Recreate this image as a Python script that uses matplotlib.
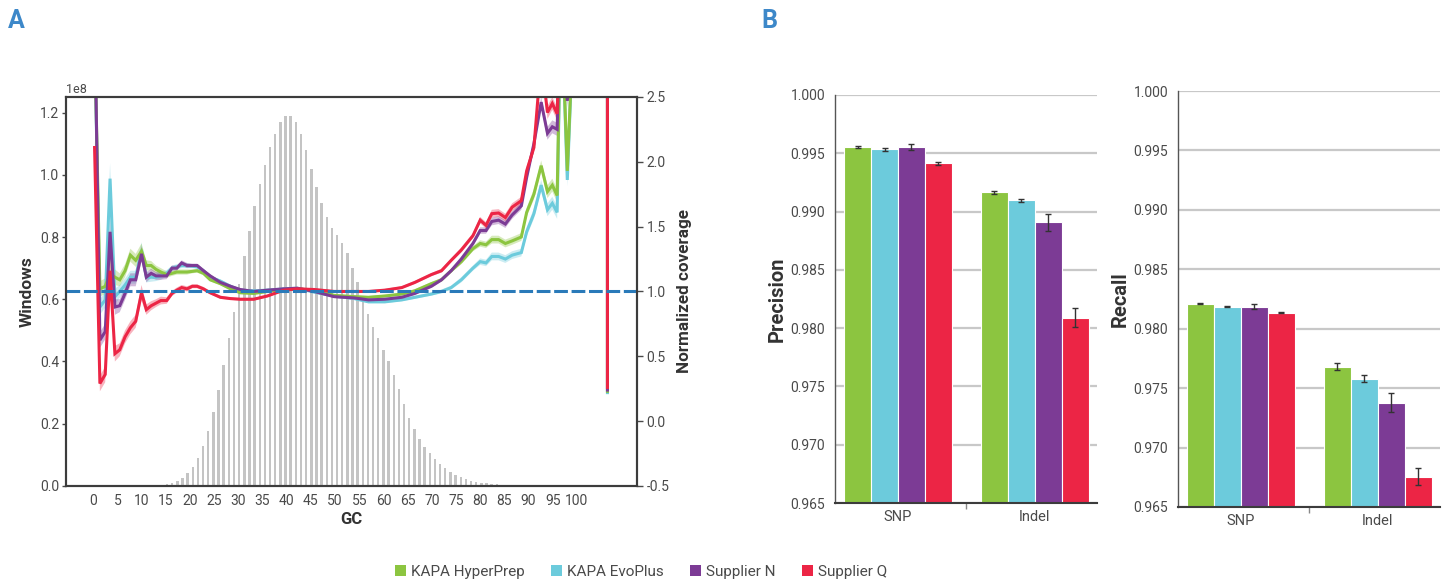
import numpy as np
import matplotlib
matplotlib.use("Agg")
import matplotlib.pyplot as plt
from matplotlib.patches import Patch

plt.rcParams['font.family'] = ['Roboto', 'DejaVu Sans']

# ---- data ----
kits = ["KAPA HyperPrep", "KAPA EvoPlus", "Supplier N", "Supplier Q"]
kit_colors = ["#8cc540", "#6ccbdc", "#7c3b95", "#ec2545"]

# GC histogram, windows per bin (x1e8), bins evenly spaced from first to last GC
hist_gc_first, hist_gc_last = 14.2, 84.5
hist_windows = [0.003, 0.006, 0.011, 0.017, 0.027, 0.042, 0.062, 0.091, 0.13, 0.178,
                0.237, 0.307, 0.39, 0.475, 0.56, 0.65, 0.74, 0.82, 0.90, 0.97,
                1.03, 1.09, 1.13, 1.17, 1.19, 1.19, 1.17, 1.13, 1.08, 1.02,
                0.96, 0.91, 0.865, 0.83, 0.805, 0.78, 0.75, 0.70, 0.655, 0.595,
                0.554, 0.512, 0.474, 0.437, 0.40, 0.356, 0.31, 0.263, 0.219, 0.182,
                0.15, 0.126, 0.105, 0.086, 0.071, 0.057, 0.046, 0.035, 0.028, 0.021,
                0.016, 0.013, 0.011, 0.009, 0.006, 0.005, 0.004]

# normalized coverage per GC
gc = [0.3, 1.4, 2.5, 3.5, 4.5, 5.5, 6.6, 7.7, 8.8, 10.0,
      11.0, 12.0, 13.0, 14.0, 15.2, 16.3, 17.3, 18.3, 19.4, 20.5,
      21.5, 22.8, 24.2, 26.3, 28.4, 30.4, 33.2, 36.0, 39.4, 42.2,
      45.7, 49.8, 54.0, 56.9, 60.3, 63.8, 66.5, 69.9, 72.0, 74.0,
      76.1, 78.5, 80.0, 81.2, 82.4, 83.8, 85.2, 86.6, 88.5, 89.6,
      91.1, 92.6, 93.9, 94.9, 95.9, 96.7, 98.0, 99.2, 100.0, 106.3, 106.3]
cov_hyperprep = [3.0, 1.02, 1.04, 1.14, 1.11, 1.09, 1.16, 1.28, 1.24, 1.31,
                 1.20, 1.20, 1.17, 1.15, 1.13, 1.14, 1.15, 1.15, 1.15, 1.155,
                 1.16, 1.14, 1.09, 1.06, 1.02, 0.99, 0.985, 1.0, 1.015, 1.02,
                 1.01, 0.97, 0.96, 0.955, 0.965, 0.98, 1.005, 1.06, 1.09, 1.16,
                 1.23, 1.33, 1.37, 1.36, 1.40, 1.40, 1.37, 1.39, 1.42, 1.61,
                 1.75, 1.97, 1.77, 1.82, 1.74, 3.3, 1.93, 3.0, 4.0, 60, 0.23]
cov_evoplus = [3.0, 0.88, 0.935, 1.87, 0.96, 1.0, 1.05, 1.11, 1.11, 1.32,
               1.11, 1.11, 1.11, 1.12, 1.14, 1.18, 1.19, 1.20, 1.20, 1.195,
               1.19, 1.16, 1.11, 1.08, 1.04, 1.01, 1.005, 1.01, 1.02, 1.025,
               0.995, 0.965, 0.945, 0.92, 0.92, 0.935, 0.955, 0.98, 1.0, 1.03,
               1.09, 1.18, 1.23, 1.22, 1.27, 1.27, 1.25, 1.28, 1.30, 1.46,
               1.60, 1.82, 1.63, 1.68, 1.61, 3.3, 1.86, 3.0, 4.0, 60, 0.22]
cov_supplier_n = [3.2, 0.625, 0.69, 1.46, 0.88, 0.89, 0.985, 1.09, 1.09, 1.29,
                  1.11, 1.14, 1.12, 1.12, 1.12, 1.18, 1.18, 1.22, 1.20, 1.20,
                  1.20, 1.16, 1.12, 1.07, 1.04, 1.015, 1.0, 1.01, 1.02, 1.025,
                  1.0, 0.96, 0.95, 0.935, 0.94, 0.955, 0.985, 1.04, 1.09, 1.16,
                  1.25, 1.37, 1.47, 1.47, 1.54, 1.55, 1.52, 1.59, 1.66, 1.88,
                  2.14, 2.46, 2.22, 2.27, 2.25, 3.3, 2.47, 3.0, 4.0, 60, 0.24]
cov_supplier_q = [2.11, 0.29, 0.36, 1.16, 0.52, 0.55, 0.65, 0.72, 0.77, 0.99,
                  0.86, 0.89, 0.91, 0.93, 0.93, 0.985, 1.01, 1.03, 1.02, 1.04,
                  1.04, 1.02, 0.99, 0.955, 0.945, 0.94, 0.94, 0.965, 1.01, 1.02,
                  1.015, 1.0, 1.0, 1.0, 1.01, 1.03, 1.07, 1.13, 1.16, 1.24,
                  1.32, 1.43, 1.55, 1.51, 1.60, 1.605, 1.57, 1.65, 1.70, 1.93,
                  2.11, 2.8, 2.38, 2.45, 2.37, 3.3, 3.5, 3.6, 4.0, 60, 0.26]
cov_spread = [0.05, 0.06, 0.06, 0.12, 0.06, 0.05, 0.05, 0.05, 0.05, 0.06,
              0.04, 0.035, 0.03, 0.03, 0.025, 0.02, 0.02, 0.02, 0.02, 0.015,
              0.015, 0.015, 0.012, 0.012, 0.01, 0.01, 0.01, 0.01, 0.01, 0.01,
              0.01, 0.01, 0.01, 0.01, 0.01, 0.01, 0.012, 0.012, 0.015, 0.015,
              0.02, 0.02, 0.025, 0.025, 0.03, 0.03, 0.03, 0.03, 0.03, 0.035,
              0.04, 0.04, 0.05, 0.05, 0.05, 0.05, 0.05, 0.05, 0.0, 0.0, 0.0]

# panel B: precision / recall per kit
variant_types = ["SNP", "Indel"]
precision_snp = [0.99551, 0.99533, 0.99551, 0.99413]
precision_snp_err = [0.0001, 0.0001, 0.00025, 0.0001]
precision_indel = [0.99164, 0.99096, 0.98907, 0.98091]
precision_indel_err = [0.0001, 0.0001, 0.0007, 0.00085]
recall_snp = [0.98211, 0.98186, 0.98186, 0.98135]
recall_snp_err = [0.00005, 0.00005, 0.00022, 0.00004]
recall_indel = [0.97681, 0.97580, 0.97378, 0.96756]
recall_indel_err = [0.00028, 0.00028, 0.00083, 0.0007]

text_col = "#4a4a4a"
spine_col = "#3c3c3c"

fig = plt.figure(figsize=(14.48, 5.82), dpi=100)

# ---- panel A ----
ax = fig.add_axes([0.0456, 0.165, 0.3943, 0.6684])
hist_pos = np.linspace(hist_gc_first, hist_gc_last, len(hist_windows))
ax.bar(hist_pos, np.array(hist_windows) * 1e8, width=0.5, color="#c4c4c4", linewidth=0)
ax.set_xlim(-5.6, 112.4)
ax.set_ylim(0, 1.25e8)
ax.set_xticks(range(0, 101, 5))
ax.set_yticks(np.arange(0, 1.21e8, 0.2e8))
ax.tick_params(axis='x', length=0, labelsize=10, pad=6, colors=text_col)
ax.tick_params(axis='y', length=3, width=1, labelsize=10, pad=2, colors=text_col)
ax.yaxis.get_offset_text().set_fontsize(9)
ax.yaxis.get_offset_text().set_color(text_col)
ax.set_xlabel("GC", fontsize=12, fontweight='bold', color="#333333", labelpad=3)
ax.set_ylabel("Windows", fontsize=12.5, fontweight='bold', color="#333333", labelpad=4)

ax2 = ax.twinx()
series = [cov_hyperprep, cov_evoplus, cov_supplier_n, cov_supplier_q]
spread = np.array(cov_spread)
for vals, col in zip([series[1], series[0], series[2], series[3]],
                     [kit_colors[1], kit_colors[0], kit_colors[2], kit_colors[3]]):
    v = np.array(vals)
    ax2.fill_between(gc, v - spread, v + spread, color=col, alpha=0.35, linewidth=0)
    ax2.plot(gc, v, color=col, lw=2.2, solid_joinstyle='miter')
ax2.axhline(1.0, color="#2a7ab9", lw=2.2, dashes=(4.5, 1.2))
ax2.set_ylim(-0.5, 2.5)
ax2.set_yticks(np.arange(-0.5, 2.51, 0.5))
ax2.set_yticklabels([f"{t:.1f}" for t in np.arange(-0.5, 2.51, 0.5)])
ax2.tick_params(axis='y', length=4, width=1, labelsize=10, pad=3, colors=text_col)
ax2.set_ylabel("Normalized coverage", fontsize=12.3, fontweight='bold', color="#333333", labelpad=5)
for a in (ax, ax2):
    for s in a.spines.values():
        s.set_color(spine_col)
        s.set_linewidth(1.5)

# ---- panel B ----
def bar_panel(rect, snp, snp_err, indel, indel_err, label):
    b = fig.add_axes(rect)
    width = 0.197
    offsets = (np.arange(4) - 1.5) * width
    for i, col in enumerate(kit_colors):
        xs = np.array([0, 1]) + offsets[i]
        ys = [snp[i], indel[i]]
        b.bar(xs, ys, width=width, color=col, edgecolor='white', linewidth=0.8, zorder=2)
        b.errorbar(xs, ys, yerr=[snp_err[i], indel_err[i]], fmt='none', ecolor="#333333",
                   elinewidth=1, capsize=2, capthick=1, zorder=3)
    b.set_xlim(-0.46, 1.455)
    b.set_ylim(0.965, 1.0)
    b.set_yticks(np.arange(0.965, 1.0001, 0.005))
    b.set_yticklabels([f"{t:.3f}" for t in np.arange(0.965, 1.0001, 0.005)])
    b.set_xticks([0, 1])
    b.set_xticklabels(variant_types)
    b.set_xticks([0.5], minor=True)
    b.tick_params(axis='x', which='major', length=0, labelsize=10.5, pad=5, colors=text_col)
    b.tick_params(axis='x', which='minor', length=4, width=1, color="#888888")
    b.tick_params(axis='y', length=0, labelsize=10, pad=7, colors=text_col)
    b.yaxis.grid(True, color="#c8c8c8", lw=1.6)
    b.set_axisbelow(True)
    b.spines['top'].set_visible(False)
    b.spines['right'].set_visible(False)
    b.spines['left'].set_color("#555555")
    b.spines['left'].set_linewidth(1)
    b.spines['bottom'].set_color(spine_col)
    b.spines['bottom'].set_linewidth(1.5)
    b.set_ylabel(label, fontsize=14.5, fontweight='bold', color="#333333", labelpad=3)
    return b

bar_panel([0.5767, 0.1357, 0.1809, 0.7011], precision_snp, precision_snp_err,
          precision_indel, precision_indel_err, "Precision")
bar_panel([0.8135, 0.1289, 0.1810, 0.7147], recall_snp, recall_snp_err,
          recall_indel, recall_indel_err, "Recall")

# panel letters
fig.text(0.0055, 0.985, "A", fontsize=18, fontweight='bold', color="#3d88c9", va='top')
fig.text(0.526, 0.985, "B", fontsize=18, fontweight='bold', color="#3d88c9", va='top')

# legend
handles = [Patch(facecolor=c, edgecolor='none') for c in kit_colors]
fig.legend(handles, kits, loc='center', bbox_to_anchor=(0.4427, 0.018), ncol=4, frameon=False,
           handlelength=0.72, handleheight=0.72, handletextpad=0.3, columnspacing=1.75,
           fontsize=11, labelcolor=text_col)

fig.savefig("out.png", dpi=100)
